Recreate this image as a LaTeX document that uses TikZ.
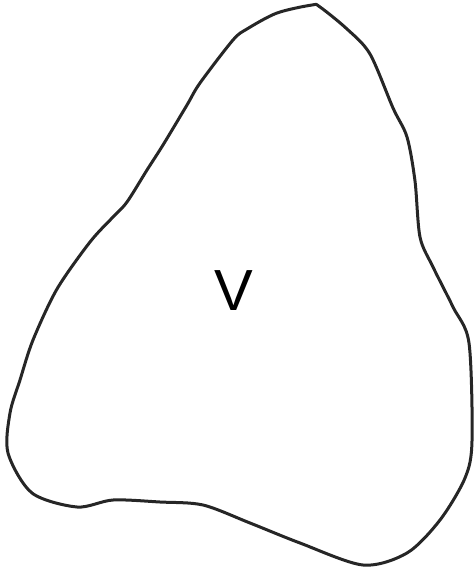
\documentclass[tikz,border=0pt]{standalone}
\usepackage{fontspec}
\setmainfont{Liberation Sans}
\begin{document}
\begin{tikzpicture}[x=1pt,y=-1pt,
  blob/.style={draw=black!85,line width=3pt,line join=round},
  lbl/.style={font=\fontsize{58}{58}\selectfont,inner sep=0pt}]
\useasboundingbox (0,0) rectangle (475,573);
\draw[blob] plot[smooth cycle,tension=0.5] coordinates {
 (312,5) (277,13) (247,29) (233,40) (200,83) (187,105) (163,145) (147,170)
 (127,202) (113,217) (90,242) (57,289) (33,340) (20,380) (10,413) (8,453)
 (32,493) (77,507) (113,500) (160,502) (203,505) (250,523) (300,543) (363,565)
 (407,553) (440,520) (465,478) (472,441) (469,343) (453,307) (433,267) (420,237)
 (415,181) (407,137) (393,108) (370,54) (347,29) (320,7)};
\node[lbl] (v) at (234,291) {V};
\end{tikzpicture}
\end{document}
